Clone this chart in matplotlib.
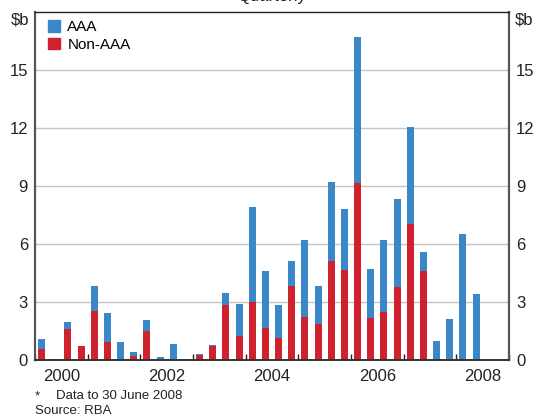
"""Quarterly issuance, AAA vs Non-AAA, stacked bars."""

import matplotlib.pyplot as plt
import numpy as np
from matplotlib.patches import Patch

plt.rcParams["font.family"] = ["Liberation Sans", "DejaVu Sans"]

BLUE = "#3a88c8"
RED = "#d0222e"
DARK = "#555555"
GRID = "#c4c4c4"

# quarterly values, 2000 Q1 .. 2008 Q2, $b
years = list(range(2000, 2009))
quarters = [(y, q) for y in years for q in range(1, 5)][:34]
non_aaa = [
    0.55, 0.04, 1.60, 0.75,
    2.55, 0.95, 0.00, 0.23,
    1.50, 0.00, 0.00, 0.00,
    0.27, 0.74, 2.84, 1.24,
    3.00, 1.67, 1.16, 3.83,
    2.22, 1.87, 5.12, 4.66,
    9.15, 2.17, 2.48, 3.78,
    7.03, 4.60, 0.00, 0.00,
    0.00, 0.00,
]
aaa = [
    0.55, 0.00, 0.37, 0.00,
    1.28, 1.48, 0.95, 0.19,
    0.57, 0.17, 0.83, 0.06,
    0.05, 0.04, 0.63, 1.66,
    4.90, 2.93, 1.68, 1.29,
    3.99, 1.96, 4.08, 3.14,
    7.55, 2.54, 3.73, 4.55,
    5.02, 0.99, 0.98, 2.12,
    6.52, 3.41,
]
year_labels = ["2000", "", "2002", "", "2004", "", "2006", "", "2008"]
y_ticks = [0, 3, 6, 9, 12, 15]

W, H = 535, 417
fig = plt.figure(figsize=(W / 100, H / 100), dpi=100)
ax = fig.add_axes([35 / W, 57 / H, 474 / W, 348 / H])

x = np.array([y + (q - 0.5) / 4 for y, q in quarters])
width = 0.135
ax.bar(x, non_aaa, width=width, color=RED, linewidth=0, zorder=2)
ax.bar(x, aaa, width=width, bottom=non_aaa, color=BLUE, linewidth=0, zorder=2)

ax.set_xlim(2000, 2009)
ax.set_ylim(0, 18)

# y axis, labels on both sides
ax.set_yticks(y_ticks)
ax.tick_params(axis="y", length=0, labelsize=12, pad=5, colors="#222222",
               left=True, right=True, labelleft=True, labelright=True)
ax.grid(axis="y", color=GRID, linewidth=1.0, zorder=0)

# x axis: year boundaries as inward ticks, labels at mid-year
ax.set_xticks(range(2000, 2010))
ax.set_xticklabels([])
ax.tick_params(axis="x", which="major", direction="in", length=4.5,
               width=1.0, color="#222222")
ax.set_xticks([y + 0.5 for y in years], minor=True)
ax.set_xticklabels(year_labels, minor=True)
ax.tick_params(axis="x", which="minor", length=0, labelsize=12, pad=6.5,
               colors="#222222")

for side in ["left", "right"]:
    ax.spines[side].set_color(DARK)
    ax.spines[side].set_linewidth(1.6)
ax.spines["bottom"].set_color("#333333")
ax.spines["bottom"].set_linewidth(1.4)
ax.spines["top"].set_color("#222222")
ax.spines["top"].set_linewidth(1.0)

handles = [Patch(color=BLUE, label="AAA"), Patch(color=RED, label="Non-AAA")]
ax.legend(handles=handles, loc="upper left", bbox_to_anchor=(0.02, 0.985),
          frameon=False, fontsize=11, handlelength=0.8, handleheight=0.8,
          handletextpad=0.5, labelspacing=0.22, borderaxespad=0.0,
          borderpad=0.2)

fig.text(29 / W, 1 - 20 / H, "$b", ha="right", va="center", fontsize=12,
         color="#222222")
fig.text(515 / W, 1 - 20 / H, "$b", ha="left", va="center", fontsize=12,
         color="#222222")
# title sits mostly above the canvas, as in the source image
fig.text(272 / W, 1 - 1.5 / H, "Quarterly", ha="center", va="baseline",
         fontsize=12, color="#222222")

fig.text(35 / W, 1 - 399 / H, "*", ha="left", va="baseline", fontsize=9.5,
         color="#222222")
fig.text(56 / W, 1 - 399 / H, "Data to 30 June 2008", ha="left",
         va="baseline", fontsize=9.5, color="#222222")
fig.text(35 / W, 1 - 414 / H, "Source: RBA", ha="left", va="baseline",
         fontsize=9.5, color="#222222")

fig.savefig("out.png", dpi=100)
